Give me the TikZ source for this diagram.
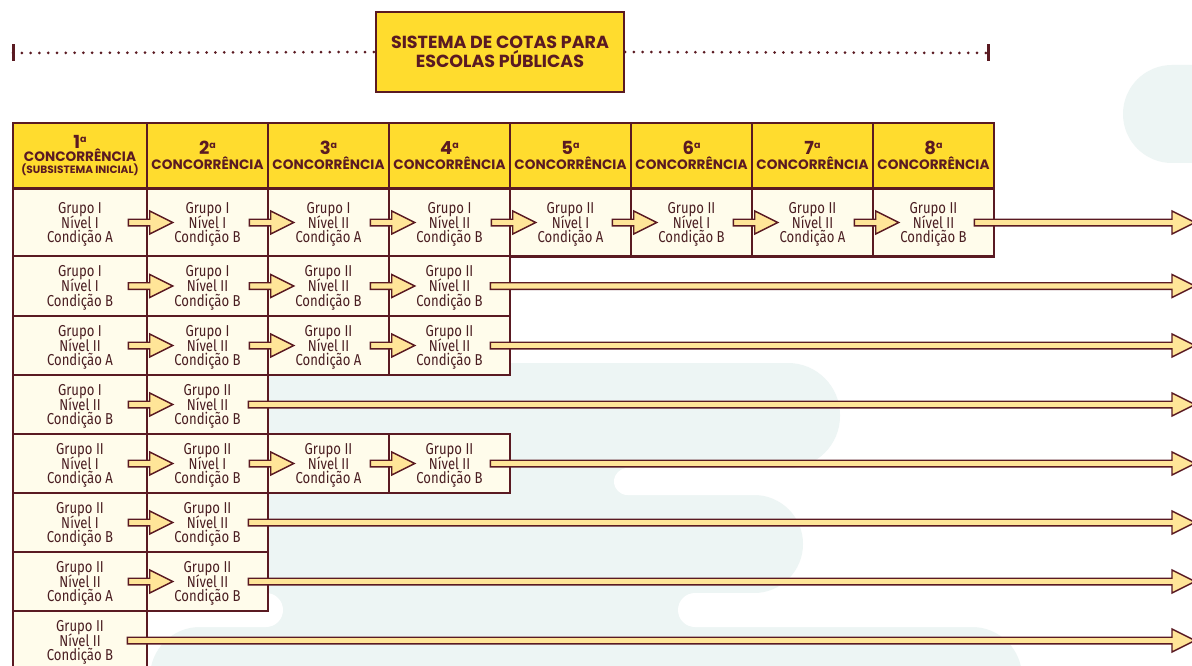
\documentclass[tikz,border=0pt]{standalone}
\usepackage{fontspec}
\setmainfont{Fira Sans}[FakeStretch=0.83]
\newfontfamily\hfont{Poppins}
\usetikzlibrary{calc}
\definecolor{maroon}{HTML}{5A1A22}
\definecolor{textc}{HTML}{4A1E22}
\definecolor{hyellow}{HTML}{FFDC2E}
\definecolor{cream}{HTML}{FFFCEB}
\definecolor{arrowy}{HTML}{FFE598}
\definecolor{bgteal}{HTML}{EDF5F4}
\newcommand{\cellfont}{\fontsize{15.8}{14.8}\selectfont\lineskiplimit=-30pt\lineskip=0pt}
\newcommand{\hnum}[1]{{\fontsize{18}{16}\selectfont #1\raisebox{6pt}{\fontsize{9.5}{9}\selectfont a}}}
\newcommand{\blockarr}[2]{\draw[arr] let \p1=(#1), \p2=(#2) in
  (\x1,{\y1+3.3pt}) -- ({\x2-23pt},{\y1+3.3pt}) -- ({\x2-23pt},{\y1+11.5pt}) -- (\x2,\y1)
  -- ({\x2-23pt},{\y1-11.5pt}) -- ({\x2-23pt},{\y1-3.3pt}) -- (\x1,{\y1-3.3pt}) -- cycle;}
\newcommand{\sarr}[2]{\blockarr{$(#1.east)+(-20,0)$}{$(#2.west)+(27,0)$}}
\newcommand{\larr}[1]{\blockarr{$(#1.east)+(-21,0)$}{$(#1.east -| E)$}}
\begin{document}
\begin{tikzpicture}[x=1pt,y=-1pt,
  cell/.style={draw=maroon, line width=2.6pt, fill=cream, align=center, inner sep=0pt,
    font=\cellfont, text=textc, text depth=-2.6pt},
  head/.style={draw=maroon, line width=2.6pt, fill=hyellow, align=center, inner sep=0pt,
    font=\hfont\bfseries\fontsize{13.6}{14}\selectfont, text=maroon, minimum height=65},
  wone/.style={minimum width=134},
  wn/.style={minimum width=121},
  hA/.style={minimum height=68},
  hB/.style={minimum height=60},
  hC/.style={minimum height=59},
  arr/.style={draw=maroon, line width=1.4pt, fill=arrowy, line join=miter},
  bg/.style={fill=bgteal},
  wbg/.style={fill=white},
  dots/.style={draw=maroon, line width=3pt, line cap=round, dash pattern=on 0pt off 8.8pt},
  tick/.style={draw=maroon, line width=3pt}]
\clip (0,0) rectangle (1192,666);
\fill[white] (0,0) rectangle (1192,666);
% background blobs
\fill[bg, rounded corners=49] (1123,65) rectangle (1320,163);
\fill[bg, rounded corners=52] (150,363) rectangle (840,468);
\fill[bg] (200,440) rectangle (650,520);
\fill[bg, rounded corners=49] (150,495) rectangle (803,593);
\fill[bg] (250,570) rectangle (700,650);
\fill[bg, rounded corners=50] (150,627) rectangle (1022,727);
\fill[wbg, rounded corners=13.5] (614,468) rectangle (1150,495);
\fill[wbg, rounded corners=17] (678,593) rectangle (1150,627);
\fill[wbg, rounded corners=17] (60,593) rectangle (283,627);
% title
\node[draw=maroon, line width=2pt, fill=hyellow, minimum width=248, minimum height=80,
  inner sep=0pt, align=center, text=maroon, font=\hfont\bfseries\fontsize{17.5}{19.5}\selectfont]
  (title) at (500,52) {SISTEMA DE COTAS PARA\\ESCOLAS PÚBLICAS};
\coordinate (tl) at (13,53);
\coordinate (tr) at (988,53);
\coordinate (E) at (1195,0);
\draw[dots] (tl) -- (title.west);
\draw[dots] (title.east) -- (tr);
\draw[tick] ($(tl)+(0,-8.5)$) -- ($(tl)+(0,8.5)$);
\draw[tick] ($(tr)+(0,-8.5)$) -- ($(tr)+(0,8.5)$);
% header
\node[head,wone] (k1) at (80,155.5) {\hnum{1}\\[-1pt]CONCORRÊNCIA\\[-1.5pt]{\fontsize{10.6}{11}\selectfont (SUBSISTEMA INICIAL)}};
\node[head,wn] (k2) at (207.5,155.5) {\hnum{2}\\[1pt]CONCORRÊNCIA};
\node[head,wn] (k3) at (328.5,155.5) {\hnum{3}\\[1pt]CONCORRÊNCIA};
\node[head,wn] (k4) at (449.5,155.5) {\hnum{4}\\[1pt]CONCORRÊNCIA};
\node[head,wn] (k5) at (570.5,155.5) {\hnum{5}\\[1pt]CONCORRÊNCIA};
\node[head,wn] (k6) at (691.5,155.5) {\hnum{6}\\[1pt]CONCORRÊNCIA};
\node[head,wn] (k7) at (812.5,155.5) {\hnum{7}\\[1pt]CONCORRÊNCIA};
\node[head,wn] (k8) at (933.5,155.5) {\hnum{8}\\[1pt]CONCORRÊNCIA};
% row 1
\node[cell,wone,hA] (a1) at (80,222.5) {Grupo I\\Nível I\\Condição A};
\node[cell,wn,hA] (a2) at (207.5,222.5) {Grupo I\\Nível I\\Condição B};
\node[cell,wn,hA] (a3) at (328.5,222.5) {Grupo I\\Nível II\\Condição A};
\node[cell,wn,hA] (a4) at (449.5,222.5) {Grupo I\\Nível II\\Condição B};
\node[cell,wn,hA] (a5) at (570.5,222.5) {Grupo II\\Nível I\\Condição A};
\node[cell,wn,hA] (a6) at (691.5,222.5) {Grupo II\\Nível I\\Condição B};
\node[cell,wn,hA] (a7) at (812.5,222.5) {Grupo II\\Nível II\\Condição A};
\node[cell,wn,hA] (a8) at (933.5,222.5) {Grupo II\\Nível II\\Condição B};
% row 2
\node[cell,wone,hB] (b1) at (80,286) {Grupo I\\Nível I\\Condição B};
\node[cell,wn,hB] (b2) at (207.5,286) {Grupo I\\Nível II\\Condição B};
\node[cell,wn,hB] (b3) at (328.5,286) {Grupo II\\Nível II\\Condição B};
\node[cell,wn,hB] (b4) at (449.5,286) {Grupo II\\Nível II\\Condição B};
% row 3
\node[cell,wone,hC] (c1) at (80,345.5) {Grupo I\\Nível II\\Condição A};
\node[cell,wn,hC] (c2) at (207.5,345.5) {Grupo I\\Nível II\\Condição B};
\node[cell,wn,hC] (c3) at (328.5,345.5) {Grupo II\\Nível II\\Condição A};
\node[cell,wn,hC] (c4) at (449.5,345.5) {Grupo II\\Nível II\\Condição B};
% row 4
\node[cell,wone,hC] (d1) at (80,404.5) {Grupo I\\Nível II\\Condição B};
\node[cell,wn,hC] (d2) at (207.5,404.5) {Grupo II\\Nível II\\Condição B};
% row 5
\node[cell,wone,hC] (e1) at (80,463.5) {Grupo II\\Nível I\\Condição A};
\node[cell,wn,hC] (e2) at (207.5,463.5) {Grupo II\\Nível I\\Condição B};
\node[cell,wn,hC] (e3) at (328.5,463.5) {Grupo II\\Nível II\\Condição A};
\node[cell,wn,hC] (e4) at (449.5,463.5) {Grupo II\\Nível II\\Condição B};
% row 6
\node[cell,wone,hC] (f1) at (80,522.5) {Grupo II\\Nível I\\Condição B};
\node[cell,wn,hC] (f2) at (207.5,522.5) {Grupo II\\Nível II\\Condição B};
% row 7
\node[cell,wone,hC] (g1) at (80,581.5) {Grupo II\\Nível II\\Condição A};
\node[cell,wn,hC] (g2) at (207.5,581.5) {Grupo II\\Nível II\\Condição B};
% row 8
\node[cell,wone,hC] (h1) at (80,640.5) {Grupo II\\Nível II\\Condição B};
% arrows
\sarr{a1}{a2}\sarr{a2}{a3}\sarr{a3}{a4}\sarr{a4}{a5}\sarr{a5}{a6}\sarr{a6}{a7}\sarr{a7}{a8}\larr{a8}
\sarr{b1}{b2}\sarr{b2}{b3}\sarr{b3}{b4}\larr{b4}
\sarr{c1}{c2}\sarr{c2}{c3}\sarr{c3}{c4}\larr{c4}
\sarr{d1}{d2}\larr{d2}
\sarr{e1}{e2}\sarr{e2}{e3}\sarr{e3}{e4}\larr{e4}
\sarr{f1}{f2}\larr{f2}
\sarr{g1}{g2}\larr{g2}
\larr{h1}
\end{tikzpicture}
\end{document}
